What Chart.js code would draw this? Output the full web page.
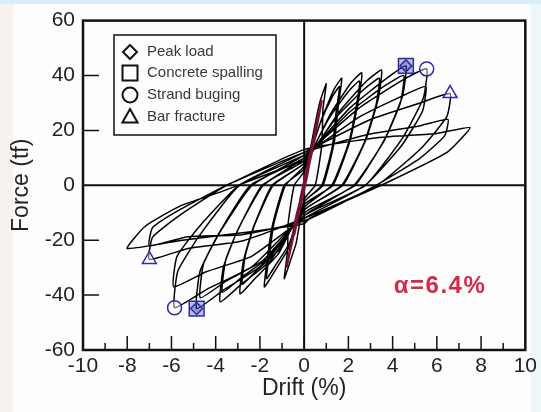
<!DOCTYPE html>
<html lang="en">
<head>
    <meta charset="UTF-8">
    <title>Force - Drift hysteresis</title>
    <script src="https://cdn.jsdelivr.net/npm/chart.js@4/dist/chart.umd.min.js"></script>
    <style>
        html, body {
            margin: 0;
            padding: 0;
        }
        .frame {
            position: relative;
            width: 541px;
            height: 412px;
            background:
                linear-gradient(to bottom, #d9eef9 0, #d9eef9 4px, rgba(255,255,255,0) 4px),
                linear-gradient(to right, #f7f2eb 0, #f7f2eb 13px, #fdfdfd 13px, #fdfdfd 531px, #edf6fb 531px);
        }
        canvas {
            position: absolute;
            left: 0;
            top: 0;
        }
    </style>
</head>
<body>
    <div class="frame">
        <canvas id="hystChart" width="541" height="412"></canvas>
    </div>

    <script>
        // axis ticks
        const xTicks = [-10, -8, -6, -4, -2, 0, 2, 4, 6, 8, 10];
        const yTicks = [-60, -40, -20, 0, 20, 40, 60];

        // first small (elastic) cycles, drawn in dark red
        const elasticDrift = [0, 0.2, 0.05, -0.2, -0.05, 0.45, 0.15, -0.45, -0.15, 0.8, 0.35, -0.8, -0.35, 0];
        const elasticForce = [0, 8, 1, -8, -1, 18, 4, -18, -4, 31, 12, -30, -11, 0];

        // hysteresis path, read branch by branch from the picture
        const hystDrift = [
            0, 0.3, 0.7, 1.0,
            0.85, 0.8, 0.5, 0, -0.36, -0.68, -0.9,
            -0.75, -0.72, -0.45, 0, 0.77, 1.36, 1.7,
            1.55, 1.36, 0.85, 0, -0.72, -1.35, -1.8,
            -1.65, -1.44, -0.9, 0, 0.72, 1.28, 1.6,
            1.45, 1.28, 0.8, 0, -0.68, -1.28, -1.7,
            -1.55, -1.36, -0.85, 0, 1.17, 2.08, 2.6,
            2.45, 2.08, 1.3, 0, -1.16, -2.18, -2.9,
            -2.75, -2.32, -1.45, 0, 1.13, 2.0, 2.5,
            2.35, 2.0, 1.25, 0, -1.12, -2.1, -2.8,
            -2.65, -2.24, -1.4, 0, 1.58, 2.8, 3.5,
            3.35, 2.8, 1.75, 0, -1.52, -2.85, -3.8,
            -3.65, -3.04, -1.9, 0, 1.53, 2.72, 3.4,
            3.25, 2.72, 1.7, 0, -1.48, -2.78, -3.7,
            -3.55, -2.96, -1.85, 0, 2.07, 3.68, 4.6,
            4.45, 3.68, 2.3, 0, -1.94, -3.65, -4.86,
            -4.71, -3.89, -2.43, 0, 2.03, 3.6, 4.5,
            4.35, 3.6, 2.25, 0, -1.88, -3.53, -4.7,
            -4.55, -3.76, -2.35, 0, 2.49, 4.43, 5.54,
            5.39, 4.43, 2.77, 0, -2.34, -4.4, -5.86,
            -5.71, -4.69, -2.93, 0, 2.48, 4.4, 5.5,
            5.35, 4.4, 2.75, 0, -2.36, -4.43, -5.9,
            -5.75, -4.72, -2.95, 0, 2.97, 5.28, 6.6,
            6.45, 5.28, 3.3, 0, -2.8, -5.25, -7,
            -6.85, -5.6, -3.5, 0, 2.93, 5.2, 6.5,
            6.35, 5.2, 3.25, 0, -2.8, -5.25, -7,
            -6.85, -5.6, -3.5, 0, 3.38, 6, 7.5,
            6.46, 3.8, 1.8, 0.25, 0, -2.5, -5.5, -8,
            -7.2, -5.6, -3.8, -2, 0
        ];
        const hystForce = [
            0, 14, 30, 37,
            27.8, 14.8, 0, -5, -21, -28.9, -34,
            -23.8, -13.6, 0, 5, 23.7, 35.1, 39,
            29.3, 15.6, 0, -6, -23.1, -31.5, -37,
            -25.9, -14.8, 0, 6, 22.5, 32.4, 36,
            27, 14.4, 0, -6, -21.4, -28.9, -34,
            -23.8, -13.6, 0, 7, 25.7, 36.9, 41,
            30.8, 16.4, 0, -7, -24.9, -33.6, -39.5,
            -27.7, -15.8, 0, 8, 24.5, 34.2, 38,
            28.5, 15.2, 0, -8, -23.4, -30.6, -36,
            -25.2, -14.4, 0, 8, 26.7, 37.8, 42,
            31.5, 16.8, 0, -9, -27.4, -36.1, -42.5,
            -29.8, -17, 0, 9, 25.5, 35.1, 39,
            29.3, 15.6, 0, -9, -25.5, -33.2, -39,
            -27.3, -15.6, 0, 10, 28.2, 38.7, 43.5,
            32.6, 17.4, 0, -10, -29.2, -38.2, -44.9,
            -31.4, -18, 0, 10, 26.5, 36, 40,
            30, 16, 0, -11, -27.5, -34.9, -41,
            -28.7, -16.4, 0, 11, 28.2, 38.2, 42.4,
            31.8, 17, 0, -11, -29.5, -37.9, -44.6,
            -31.2, -17.8, 0, 11, 24.8, 32.4, 36,
            27, 14.4, 0, -12, -25.8, -31.5, -37,
            -25.9, -14.8, 0, 12, 23.9, 30.1, 33.4,
            25, 13.4, 0, -12, -20.3, -23, -27,
            -18.9, -10.8, 0, 12, 18.6, 21.6, 24,
            18, 9.6, 0, -13, -18, -18.7, -22,
            -15.4, -8.8, 0, 13, 17.4, 18.9, 21,
            12, 1.2, -6, -12, -14, -17, -20, -23,
            -15, -7.5, -2.5, 3, 9
        ];

        // damage events
        const peakDrift = [4.6, -4.86];
        const peakForce = [43.5, -44.9];
        const spallDrift = [4.6, -4.86];
        const spallForce = [43.5, -44.9];
        const buckleDrift = [5.54, -5.86];
        const buckleForce = [42.4, -44.6];
        const fractureDrift = [6.6, -7.0];
        const fractureForce = [33.4, -27.0];

        const legendLabels = ['Peak load', 'Concrete spalling', 'Strand buging', 'Bar fracture'];

        function toPoints(xs, ys) {
            return xs.map((x, i) => ({ x: x, y: ys[i] }));
        }

        const markBlue = '#2c2ca6';
        const fontFamily = '"Liberation Sans", Arial, sans-serif';

        function shape(ctx, kind, cx, cy, s) {
            ctx.beginPath();
            if (kind === 'diamond') {
                ctx.moveTo(cx, cy - s);
                ctx.lineTo(cx + s, cy);
                ctx.lineTo(cx, cy + s);
                ctx.lineTo(cx - s, cy);
                ctx.closePath();
            } else if (kind === 'square') {
                ctx.rect(cx - s, cy - s, 2 * s, 2 * s);
            } else if (kind === 'circle') {
                ctx.arc(cx, cy, s, 0, Math.PI * 2);
            } else {
                ctx.moveTo(cx, cy - s);
                ctx.lineTo(cx + s * 0.95, cy + s * 0.7);
                ctx.lineTo(cx - s * 0.95, cy + s * 0.7);
                ctx.closePath();
            }
            ctx.stroke();
        }

        // zero lines under the data
        const zeroLines = {
            id: 'zeroLines',
            beforeDatasetsDraw(chart) {
                const { ctx, chartArea: a, scales: { x, y } } = chart;
                ctx.save();
                ctx.strokeStyle = '#111';
                ctx.lineWidth = 2;
                ctx.beginPath();
                ctx.moveTo(x.getPixelForValue(0), a.top);
                ctx.lineTo(x.getPixelForValue(0), a.bottom);
                ctx.moveTo(a.left, y.getPixelForValue(0));
                ctx.lineTo(a.right, y.getPixelForValue(0));
                ctx.stroke();
                ctx.restore();
            }
        };

        // frame, inner ticks, legend box and note
        const frameBits = {
            id: 'frameBits',
            afterDatasetsDraw(chart) {
                const { ctx, chartArea: a, scales: { x, y } } = chart;
                ctx.save();
                ctx.strokeStyle = '#111';
                ctx.lineWidth = 2.5;
                ctx.strokeRect(a.left, a.top, a.right - a.left, a.bottom - a.top);

                ctx.lineWidth = 1.5;
                ctx.beginPath();
                for (let v = -9; v <= 9; v++) {
                    const px = x.getPixelForValue(v);
                    const len = v % 2 === 0 ? 14 : 7;
                    ctx.moveTo(px, a.bottom);
                    ctx.lineTo(px, a.bottom - len);
                }
                yTicks.forEach(v => {
                    if (v === 60 || v === -60 || v === 0) return;
                    const py = y.getPixelForValue(v);
                    ctx.moveTo(a.left, py);
                    ctx.lineTo(a.left + 16, py);
                });
                ctx.stroke();

                // legend
                ctx.lineWidth = 1.5;
                ctx.strokeRect(114, 35, 162, 100);
                const rows = [52, 73, 95, 117];
                const kinds = ['diamond', 'square', 'circle', 'triangle'];
                const sizes = [7, 7.5, 7.5, 8];
                ctx.lineWidth = 2;
                ctx.strokeStyle = '#111';
                rows.forEach((ry, i) => shape(ctx, kinds[i], 130, ry, sizes[i]));
                ctx.fillStyle = '#383838';
                ctx.font = '15px ' + fontFamily;
                ctx.textAlign = 'left';
                ctx.textBaseline = 'middle';
                rows.forEach((ry, i) => ctx.fillText(legendLabels[i], 147, ry));

                // note
                ctx.fillStyle = '#d6294a';
                ctx.font = 'bold 24px ' + fontFamily;
                ctx.letterSpacing = '1.5px';
                ctx.textAlign = 'center';
                ctx.fillText('\u03b1=6.4%', 440, 286);
                ctx.restore();
            }
        };

        const tickFont = { size: 21, family: fontFamily };
        const titleFont = { size: 23, family: fontFamily };

        const hystChart = new Chart(document.getElementById('hystChart'), {
            type: 'scatter',
            data: {
                datasets: [
                    {
                        label: 'Peak load',
                        data: toPoints(peakDrift, peakForce),
                        pointStyle: 'rectRot',
                        pointRadius: 6,
                        borderColor: markBlue,
                        backgroundColor: 'rgba(44, 44, 166, 0.25)',
                        borderWidth: 1.5
                    },
                    {
                        label: 'Concrete spalling',
                        data: toPoints(spallDrift, spallForce),
                        pointStyle: 'rect',
                        pointRadius: 10.5,
                        borderColor: markBlue,
                        backgroundColor: 'rgba(44, 44, 166, 0.3)',
                        borderWidth: 1.5
                    },
                    {
                        label: 'Strand buging',
                        data: toPoints(buckleDrift, buckleForce),
                        pointStyle: 'circle',
                        pointRadius: 7,
                        borderColor: markBlue,
                        backgroundColor: 'rgba(255, 255, 255, 0.4)',
                        borderWidth: 1.5
                    },
                    {
                        label: 'Bar fracture',
                        data: toPoints(fractureDrift, fractureForce),
                        pointStyle: 'triangle',
                        pointRadius: 8,
                        borderColor: markBlue,
                        backgroundColor: 'rgba(255, 255, 255, 0.4)',
                        borderWidth: 1.5
                    },
                    {
                        label: 'Elastic cycles',
                        data: toPoints(elasticDrift, elasticForce),
                        showLine: true,
                        borderColor: '#7a1030',
                        borderWidth: 2.2,
                        pointRadius: 0,
                        tension: 0
                    },
                    {
                        label: 'Hysteresis',
                        data: toPoints(hystDrift, hystForce),
                        showLine: true,
                        borderColor: '#000',
                        borderWidth: 1.5,
                        pointRadius: 0,
                        tension: 0.15
                    }
                ]
            },
            options: {
                responsive: false,
                animation: false,
                layout: {
                    padding: { top: 16, right: 14, left: 0, bottom: 0 }
                },
                plugins: {
                    legend: { display: false },
                    tooltip: { enabled: false }
                },
                scales: {
                    x: {
                        min: -10,
                        max: 10,
                        afterBuildTicks: s => { s.ticks = xTicks.map(v => ({ value: v })); },
                        afterFit: s => { s.height = 62; },
                        grid: { display: false, drawTicks: false },
                        border: { display: false },
                        ticks: { autoSkip: false, maxRotation: 0, color: '#222', font: tickFont, padding: 4 },
                        title: { display: true, text: 'Drift (%)', color: '#222', font: titleFont, padding: { top: 0, bottom: 10 } }
                    },
                    y: {
                        min: -60,
                        max: 60,
                        afterBuildTicks: s => { s.ticks = yTicks.map(v => ({ value: v })); },
                        afterFit: s => { s.width = 83; },
                        grid: { display: false, drawTicks: false },
                        border: { display: false },
                        ticks: { color: '#222', font: tickFont, padding: 8 },
                        title: { display: true, text: 'Force (tf)', color: '#222', font: titleFont, padding: { top: 8, bottom: 0 } }
                    }
                }
            },
            plugins: [zeroLines, frameBits]
        });
    </script>
</body>
</html>
